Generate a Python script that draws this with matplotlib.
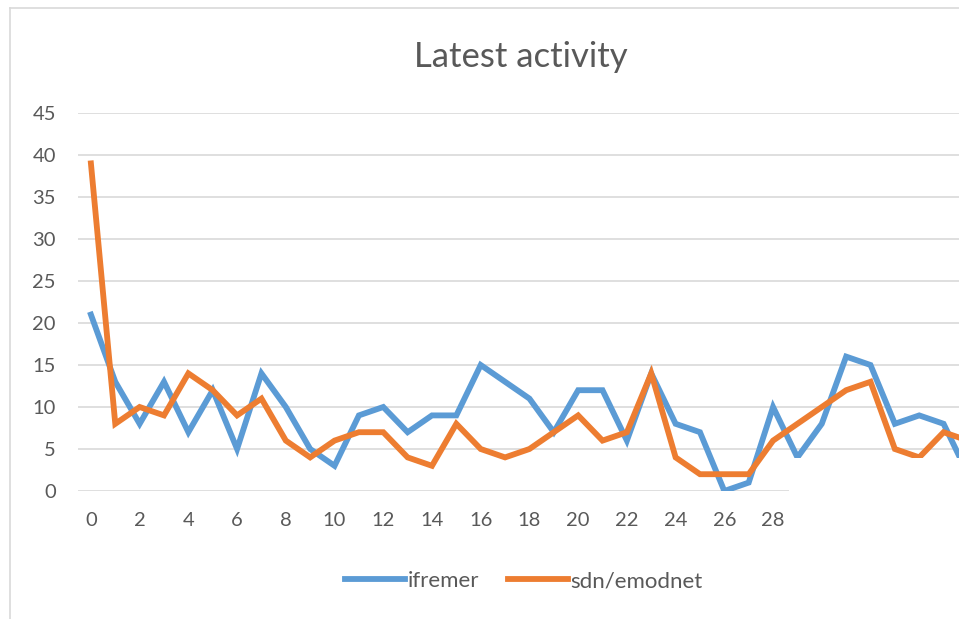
import matplotlib.pyplot as plt
from matplotlib.patches import Rectangle
from matplotlib.lines import Line2D

plt.rcParams['font.family'] = ['Lato', 'DejaVu Sans']

# daily counts
days = list(range(37))
ifremer = [21, 13, 8, 13, 7, 12, 5, 14, 10, 5, 3, 9, 10, 7, 9, 9, 15, 13, 11, 7,
           12, 12, 6, 14, 8, 7, 0, 1, 10, 4, 8, 16, 15, 8, 9, 8, 2]
sdn_emodnet = [39, 8, 10, 9, 14, 12, 9, 11, 6, 4, 6, 7, 7, 4, 3, 8, 5, 4, 5, 7,
               9, 6, 7, 14, 4, 2, 2, 2, 6, 8, 10, 12, 13, 5, 4, 7, 6]
x_ticks = list(range(0, 29, 2))
y_ticks = list(range(0, 46, 5))

W, H = 959, 619
fig = plt.figure(figsize=(W / 100, H / 100), dpi=100)
ax = fig.add_axes([78 / W, 1 - 491 / H, 1 - 78 / W, (491 - 113) / H])

ax.plot(days, ifremer, color='#5B9BD5', lw=4.2, label='ifremer', solid_joinstyle='miter', zorder=3)
ax.plot(days, sdn_emodnet, color='#ED7D31', lw=4.2, label='sdn/emodnet', solid_joinstyle='miter', zorder=4)

ax.set_xlim(-0.53, (W - 91) / 24.36)
ax.set_ylim(0, 45)
ax.set_xticks(x_ticks)
ax.set_yticks(y_ticks)
ax.grid(axis='y', color='#d9d9d9', lw=1.2)
ax.set_axisbelow(True)
for s in ['top', 'right', 'left', 'bottom']:
    ax.spines[s].set_visible(False)
ax.tick_params(length=0, labelsize=14.5, labelcolor='#595959')
ax.tick_params(axis='x', pad=15)
ax.tick_params(axis='y', pad=16)

fig.text(521 / W, 1 - 57 / H, 'Latest activity', fontsize=25, color='#595959',
         ha='center', va='center')

fig.legend(loc='center', bbox_to_anchor=(524 / W, 1 - 581 / H), ncol=2, frameon=False,
           fontsize=16, labelcolor='#595959', handlelength=2.7, handletextpad=0.1,
           columnspacing=1.3)

# chart frame and the blank patch in the bottom right corner
fig.add_artist(Line2D([10 / W, 10 / W], [0, 1 - 8 / H], color='#d9d9d9', lw=1.2))
fig.add_artist(Line2D([10 / W, 1], [1 - 8 / H, 1 - 8 / H], color='#d9d9d9', lw=1.2))
fig.add_artist(Rectangle((789 / W, 0), 1 - 789 / W, 1 - 458 / H, facecolor='white',
                         edgecolor='none', zorder=10))

fig.savefig('out.png', dpi=100)
